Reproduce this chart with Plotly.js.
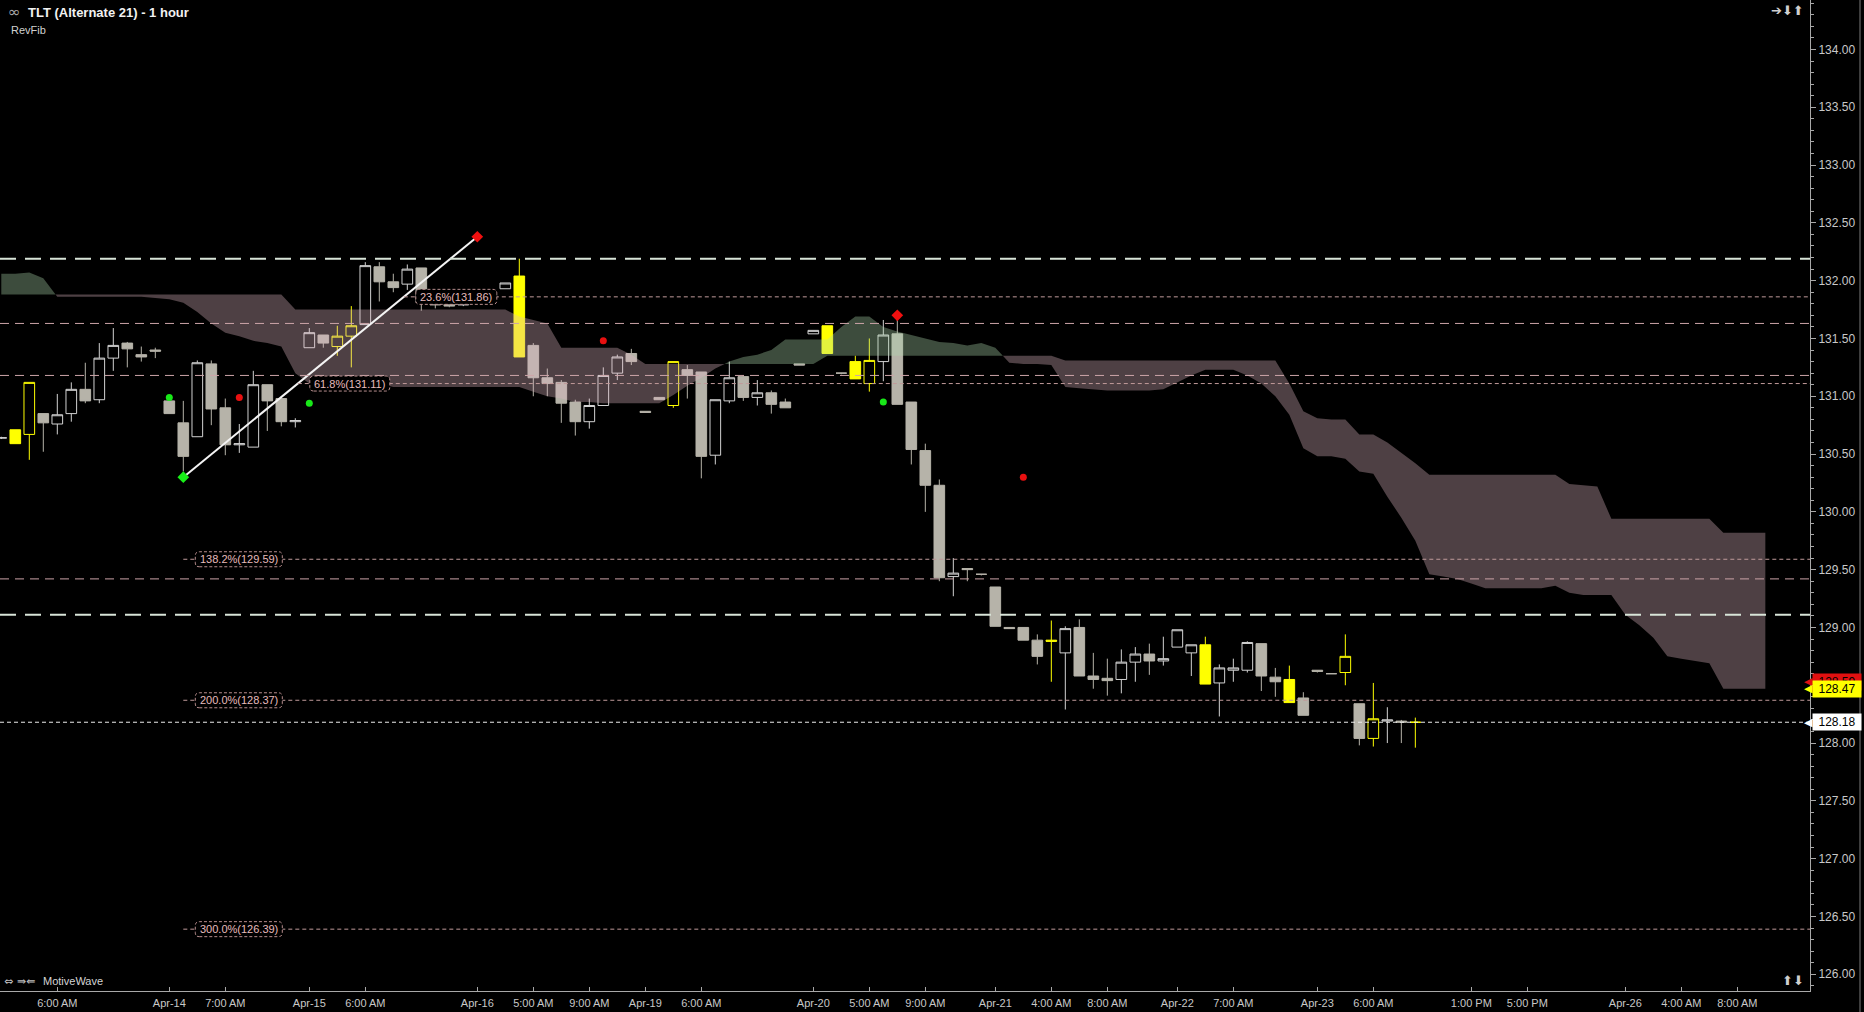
<!DOCTYPE html>
<html>
<head>
<meta charset="utf-8">
<script src="https://cdn.plot.ly/plotly-3.0.1.min.js"></script>
<style>
  html, body { margin: 0; padding: 0; background: #000; }
  #chart { width: 1864px; height: 1012px; }
</style>
</head>
<body>
<div id="chart"></div>
<script>
// ---------------- TLT hourly bars (x = bar number) ----------------
const open = [
  130.64,130.71,130.67,130.85,130.76,130.85,131.06,130.97,131.33,131.46,
  131.36,131.40,130.96,130.77,130.65,131.28,130.90,130.58,130.56,131.10,
  130.98,130.78,131.42,131.53,131.43,131.52,131.62,132.12,131.99,131.97,
  132.11,131.81,131.80,131.79,131.82,131.86,131.93,132.04,131.44,131.16,
  131.12,130.95,130.78,130.92,131.20,131.37,130.87,130.99,130.92,131.23,
  131.21,130.49,130.96,131.17,130.99,131.03,130.95,131.28,131.54,131.61,
  131.20,131.30,131.11,131.30,131.54,130.95,130.53,130.23,129.44,129.51,
  129.46,129.35,129.00,129.00,128.89,128.89,128.78,129.00,128.58,128.56,
  128.55,128.70,128.77,128.71,128.83,128.78,128.85,128.52,128.63,128.63,
  128.86,128.57,128.55,128.39,128.63,128.60,128.61,128.34,128.04,128.19,
  128.19,128.18];
const high = [
  130.65,130.71,131.12,130.85,131.02,131.12,131.29,131.46,131.59,131.47,
  131.43,131.42,130.96,130.96,131.31,131.31,130.98,130.76,131.22,131.10,
  131.00,130.81,131.59,131.53,131.61,131.78,132.16,132.16,132.06,132.14,
  132.11,131.86,131.80,131.81,131.86,131.90,131.98,132.19,131.46,131.24,
  131.14,130.97,130.98,131.25,131.36,131.41,130.87,130.99,131.30,131.27,
  131.21,130.97,131.30,131.18,131.14,131.05,130.98,131.28,131.57,131.61,
  131.20,131.35,131.50,131.66,131.66,130.95,130.59,130.28,129.60,129.51,
  129.46,129.35,129.00,129.00,128.94,129.06,129.01,129.07,128.78,128.73,
  128.81,128.83,128.86,128.92,128.98,128.85,128.92,128.68,128.73,128.88,
  128.86,128.65,128.67,128.44,128.63,128.60,128.94,128.34,128.52,128.31,
  128.20,128.22];
const low = [
  130.63,130.59,130.45,130.52,130.67,130.78,130.94,130.94,131.22,131.25,
  131.30,131.33,130.85,130.35,130.65,130.75,130.49,130.51,130.56,130.70,
  130.74,130.73,131.42,131.42,131.35,131.25,131.62,131.82,131.90,131.92,
  131.74,131.76,131.77,131.78,131.80,131.84,131.93,131.34,131.00,131.00,
  130.77,130.66,130.72,130.92,131.14,131.27,130.86,130.97,130.90,130.98,
  130.29,130.41,130.94,130.96,130.92,130.85,130.90,131.27,131.54,131.37,
  131.19,131.15,131.04,131.13,130.93,130.41,130.00,129.40,129.27,129.40,
  129.45,129.01,128.99,128.89,128.68,128.53,128.29,128.58,128.47,128.41,
  128.43,128.53,128.59,128.67,128.83,128.58,128.51,128.23,128.53,128.61,
  128.45,128.40,128.35,128.24,128.61,128.60,128.50,127.98,127.97,128.00,
  128.00,127.96];
const close = [
  130.64,130.59,131.12,130.77,130.84,131.06,130.96,131.33,131.44,131.41,
  131.34,131.39,130.85,130.48,131.29,130.89,130.58,130.59,131.10,130.96,
  130.78,130.79,131.55,131.46,131.52,131.61,132.13,131.99,131.94,132.10,
  131.81,131.79,131.78,131.80,131.84,131.88,131.98,131.34,131.16,131.11,
  130.94,130.78,130.92,131.18,131.34,131.30,130.86,130.97,131.30,131.18,
  130.48,130.97,131.16,130.99,131.03,130.93,130.90,131.27,131.57,131.37,
  131.20,131.15,131.31,131.53,130.93,130.54,130.23,129.43,129.47,129.50,
  129.46,129.01,128.99,128.89,128.75,128.88,128.99,128.58,128.55,128.54,
  128.70,128.77,128.71,128.73,128.98,128.85,128.51,128.65,128.65,128.87,
  128.58,128.53,128.35,128.24,128.62,128.60,128.75,128.04,128.21,128.20,
  128.18,128.18];
// bars painted yellow by the bar-colour study
const yellowBars = [1,2,24,25,37,48,59,61,62,75,86,92,96,98,101];

// Ichimoku leading spans (already displaced forward, bar 0..126)
const spanA = [
  132.06,132.06,132.07,132.02,131.86,131.86,131.86,131.86,131.86,131.86,
  131.86,131.85,131.84,131.81,131.73,131.63,131.55,131.52,131.48,131.46,
  131.43,131.20,131.11,131.11,131.11,131.11,131.11,131.11,131.08,131.08,
  131.08,131.08,131.08,131.08,131.08,131.08,131.08,131.08,131.04,131.00,
  130.98,130.95,130.95,130.94,130.94,130.94,130.94,130.94,131.01,131.09,
  131.16,131.24,131.30,131.34,131.36,131.40,131.49,131.49,131.49,131.49,
  131.60,131.69,131.69,131.60,131.56,131.53,131.50,131.47,131.46,131.44,
  131.46,131.42,131.29,131.28,131.28,131.27,131.08,131.07,131.06,131.05,
  131.05,131.05,131.05,131.06,131.12,131.18,131.23,131.23,131.23,131.18,
  131.11,131.00,130.84,130.55,130.48,130.48,130.46,130.35,130.33,130.13,
  129.95,129.75,129.46,129.44,129.42,129.38,129.34,129.34,129.34,129.34,
  129.34,129.36,129.30,129.28,129.28,129.28,129.11,129.02,128.91,128.75,
  128.73,128.71,128.69,128.47,128.47,128.47,128.47];
const spanB = [
  131.88,131.88,131.88,131.88,131.88,131.88,131.88,131.88,131.88,131.88,
  131.88,131.88,131.88,131.88,131.88,131.88,131.88,131.88,131.88,131.88,
  131.88,131.75,131.75,131.75,131.75,131.75,131.75,131.75,131.75,131.75,
  131.75,131.75,131.75,131.75,131.75,131.75,131.75,131.69,131.66,131.63,
  131.42,131.42,131.42,131.42,131.42,131.36,131.28,131.28,131.28,131.28,
  131.28,131.28,131.28,131.28,131.28,131.28,131.28,131.28,131.28,131.35,
  131.35,131.35,131.35,131.35,131.35,131.35,131.35,131.35,131.35,131.35,
  131.35,131.35,131.35,131.35,131.35,131.35,131.31,131.31,131.31,131.31,
  131.31,131.31,131.31,131.31,131.31,131.31,131.31,131.31,131.31,131.31,
  131.31,131.31,131.11,130.87,130.81,130.80,130.80,130.67,130.67,130.60,
  130.51,130.42,130.32,130.32,130.32,130.32,130.32,130.32,130.32,130.32,
  130.32,130.32,130.24,130.23,130.22,129.94,129.94,129.94,129.94,129.94,
  129.94,129.94,129.94,129.82,129.82,129.82,129.82];

// swing used by RevFib, and its levels
const swingIdx = [13, 34];
const swingPx = [130.30, 132.38];
const fibPct = ['23.6%', '61.8%', '138.2%', '200.0%', '300.0%'];
const fibVal = [131.86, 131.11, 129.59, 128.37, 126.39];

// horizontal support / resistance lines
const levelVal = [132.19, 131.63, 131.18, 129.42, 129.11];
const levelKind = ['major', 'minor', 'minor', 'minor', 'major'];
const lastPrice = 128.18;

// signal markers
const upDotIdx = [12, 22, 63],  upDotPx = [130.99, 130.94, 130.95];
const dnDotIdx = [17, 43, 73],  dnDotPx = [130.99, 131.48, 130.30];
const lowPivotIdx = [13],       lowPivotPx = [130.30];
const highPivotIdx = [34, 64],  highPivotPx = [132.38, 131.70];

// price tags on the axis (drawn back to front)
const tagVal = [128.59, 128.47, 128.18];
const tagBg  = ['#e01010', '#ffff00', '#ffffff'];
const tagNudge = [-7, 0, 0];   // px shift applied when tags overlap

// time axis
const tickIdx = [4,12,16,22,26,34,38,42,46,50,58,62,66,71,75,79,84,88,94,98,105,109,116,120,124];
const tickText = ['6:00 AM','Apr-14','7:00 AM','Apr-15','6:00 AM','Apr-16','5:00 AM','9:00 AM',
  'Apr-19','6:00 AM','Apr-20','5:00 AM','9:00 AM','Apr-21','4:00 AM','8:00 AM','Apr-22',
  '7:00 AM','Apr-23','6:00 AM','1:00 PM','5:00 PM','Apr-26','4:00 AM','8:00 AM'];

// ---------------- layout geometry ----------------
const FIG_W = 1864, FIG_H = 1012;
const MARGIN = { l: 0, r: 54, t: 0, b: 21, pad: 0 };
const plotW = FIG_W - MARGIN.l - MARGIN.r;
const plotH = FIG_H - MARGIN.t - MARGIN.b;
const xRange = [-0.093, 129.19];
const yRange = [125.855, 134.428];
const px2paperX = px => px / plotW;
const px2paperY = py => 1 - py / plotH;
const FONT = 'Liberation Sans, Arial, sans-serif';

const bars = open.map((_, i) => i);

// ---------------- candles ----------------
function candleTrace(keep, incLine, incFill, decLine, decFill) {
  const sel = arr => arr.filter((_, i) => keep(i));
  return {
    type: 'candlestick',
    x: sel(bars), open: sel(open), high: sel(high), low: sel(low), close: sel(close),
    increasing: { line: { color: incLine, width: 1 }, fillcolor: incFill },
    decreasing: { line: { color: decLine, width: 1 }, fillcolor: decFill },
    whiskerwidth: 0, hoverinfo: 'skip', showlegend: false
  };
}
const isYellow = i => yellowBars.includes(i);
const traces = [
  candleTrace(i => !isYellow(i), '#d2d2d2', '#000000', '#b6b3a9', '#b6b3a9'),
  candleTrace(isYellow, '#ffff00', '#000000', '#ffff00', '#ffff00')
];

// ---------------- cloud ----------------
function cloudRuns(a, b) {
  const runs = [];
  let cur = null;
  for (let i = 0; i < a.length; i++) {
    const bull = a[i] >= b[i];
    if (!cur) { cur = { bull, xs: [i], a: [a[i]], b: [b[i]] }; continue; }
    if (bull === cur.bull) {
      cur.xs.push(i); cur.a.push(a[i]); cur.b.push(b[i]);
    } else {
      const d0 = a[i - 1] - b[i - 1], d1 = a[i] - b[i];
      const t = d0 / (d0 - d1);
      const xc = i - 1 + t, yc = a[i - 1] + t * (a[i] - a[i - 1]);
      cur.xs.push(xc); cur.a.push(yc); cur.b.push(yc);
      runs.push(cur);
      cur = { bull, xs: [xc, i], a: [yc, a[i]], b: [yc, b[i]] };
    }
  }
  runs.push(cur);
  return runs;
}
cloudRuns(spanA, spanB).forEach(r => {
  traces.push({
    type: 'scatter', mode: 'lines',
    x: r.xs.concat(r.xs.slice().reverse()),
    y: r.a.concat(r.b.slice().reverse()),
    fill: 'toself',
    fillcolor: r.bull ? 'rgba(176,218,176,0.35)' : 'rgba(224,182,194,0.35)',
    line: { width: 0 }, hoverinfo: 'skip', showlegend: false
  });
});

// swing line and markers
traces.push({
  type: 'scatter', mode: 'lines',
  x: [swingIdx[0], swingIdx[1]], y: [swingPx[0], swingPx[1]],
  line: { color: '#f4f4f4', width: 2 }, hoverinfo: 'skip', showlegend: false
});
function markerTrace(x, y, symbol, color, size) {
  return { type: 'scatter', mode: 'markers', x, y,
    marker: { symbol, color, size, line: { width: 0 } }, hoverinfo: 'skip', showlegend: false };
}
traces.push(markerTrace(upDotIdx, upDotPx, 'circle', '#18e818', 7));
traces.push(markerTrace(dnDotIdx, dnDotPx, 'circle', '#e81010', 7));
traces.push(markerTrace(lowPivotIdx, lowPivotPx, 'diamond', '#18f018', 9));
traces.push(markerTrace(highPivotIdx, highPivotPx, 'diamond', '#f01010', 9));

// ---------------- shapes ----------------
const shapes = [];
const levelStyle = {
  major: { color: '#d8e4d8', width: 2, dash: '16px,9px' },
  minor: { color: '#cca4a8', width: 1, dash: '9px,6px' }
};
levelVal.forEach((v, k) => {
  shapes.push({ type: 'line', xref: 'x', yref: 'y', x0: xRange[0], x1: xRange[1], y0: v, y1: v,
    line: levelStyle[levelKind[k]], layer: 'above' });
});
shapes.push({ type: 'line', xref: 'x', yref: 'y', x0: xRange[0], x1: xRange[1], y0: lastPrice, y1: lastPrice,
  line: { color: '#ececec', width: 1, dash: '4px,3px' }, layer: 'above' });

function fibStart(v) {
  const lo = swingPx[0], hi = swingPx[1];
  if (v > lo && v < hi) return swingIdx[0] + (v - lo) / (hi - lo) * (swingIdx[1] - swingIdx[0]);
  return swingIdx[0];
}
function roundRect(x0, x1, h, r) {
  const y0 = -h / 2, y1 = h / 2;
  return `M${x0 + r},${y0} L${x1 - r},${y0} Q${x1},${y0} ${x1},${y0 + r} L${x1},${y1 - r} ` +
         `Q${x1},${y1} ${x1 - r},${y1} L${x0 + r},${y1} Q${x0},${y1} ${x0},${y1 - r} ` +
         `L${x0},${y0 + r} Q${x0},${y0} ${x0 + r},${y0} Z`;
}
const measure = document.createElement('canvas').getContext('2d');
measure.font = '11px "Liberation Sans"';

const annotations = [];
const LABEL_GAP = 12;
fibVal.forEach((v, k) => {
  const s = fibStart(v);
  shapes.push({ type: 'line', xref: 'x', yref: 'y', x0: s, x1: xRange[1], y0: v, y1: v,
    line: { color: '#c09a9a', width: 1, dash: '4px,3px' }, layer: 'above' });
  const text = `${fibPct[k]}(${v.toFixed(2)})`;
  const bw = Math.round(measure.measureText(text).width) + 9;
  shapes.push({ type: 'path', xref: 'x', yref: 'y', xsizemode: 'pixel', ysizemode: 'pixel',
    xanchor: s, yanchor: v, path: roundRect(LABEL_GAP, LABEL_GAP + bw, 15, 4),
    fillcolor: '#000000', line: { color: '#b88e8e', width: 1, dash: '3px,2px' }, layer: 'above' });
  annotations.push({ xref: 'x', yref: 'y', x: s, y: v, xanchor: 'center', yanchor: 'middle',
    xshift: LABEL_GAP + bw / 2, text, showarrow: false,
    font: { family: FONT, size: 11, color: '#e6bcbc' } });
});

// outer frame on the right
shapes.push({ type: 'line', xref: 'paper', yref: 'paper', x0: px2paperX(1860), x1: px2paperX(1860),
  y0: px2paperY(FIG_H), y1: 1, line: { color: '#7a7a7a', width: 1 }, layer: 'above' });

// price tags on the axis
tagVal.forEach((v, k) => {
  annotations.push({ xref: 'paper', yref: 'y', x: 1, y: v, xanchor: 'right', yanchor: 'middle',
    xshift: 5, yshift: tagNudge[k], text: '◀', showarrow: false,
    font: { family: 'DejaVu Sans', size: 11, color: tagBg[k] } });
  annotations.push({ xref: 'paper', yref: 'y', x: 1, y: v, xanchor: 'left', yanchor: 'middle',
    xshift: 2, yshift: tagNudge[k], text: v.toFixed(2), showarrow: false, bgcolor: tagBg[k],
    borderpad: 1, width: 46,
    font: { family: FONT, size: 12, color: '#000000' } });
});

// header and footer texts
annotations.push(
  { xref: 'paper', yref: 'paper', x: px2paperX(6), y: px2paperY(12), xanchor: 'left', yanchor: 'middle',
    text: '∞', showarrow: false, font: { family: 'DejaVu Sans', size: 15, color: '#a8a8a8' } },
  { xref: 'paper', yref: 'paper', x: px2paperX(26), y: px2paperY(12), xanchor: 'left', yanchor: 'middle',
    text: '<b>TLT (Alternate 21) - 1 hour</b>', showarrow: false,
    font: { family: FONT, size: 13, color: '#f2f2f2' } },
  { xref: 'paper', yref: 'paper', x: px2paperX(9), y: px2paperY(30), xanchor: 'left', yanchor: 'middle',
    text: 'RevFib', showarrow: false, font: { family: FONT, size: 11, color: '#d0d0d0' } },
  { xref: 'paper', yref: 'paper', x: px2paperX(1806), y: px2paperY(10), xanchor: 'right', yanchor: 'middle',
    text: '➔⬇⬆', showarrow: false, font: { family: 'DejaVu Sans', size: 13, color: '#cfcfcf' } },
  { xref: 'paper', yref: 'paper', x: px2paperX(2), y: px2paperY(981), xanchor: 'left', yanchor: 'middle',
    text: '⇔ ⇛⇚', showarrow: false, font: { family: 'DejaVu Sans', size: 11, color: '#bdbdbd' } },
  { xref: 'paper', yref: 'paper', x: px2paperX(41), y: px2paperY(981), xanchor: 'left', yanchor: 'middle',
    text: 'MotiveWave', showarrow: false, font: { family: FONT, size: 11, color: '#d4d4d4' } },
  { xref: 'paper', yref: 'paper', x: px2paperX(1806), y: px2paperY(980), xanchor: 'right', yanchor: 'middle',
    text: '⬆⬇', showarrow: false, font: { family: 'DejaVu Sans', size: 13, color: '#cfcfcf' } }
);

const layout = {
  width: FIG_W, height: FIG_H,
  margin: MARGIN,
  paper_bgcolor: '#000000', plot_bgcolor: '#000000',
  showlegend: false,
  boxgap: 0.24, boxgroupgap: 0,
  font: { family: FONT, color: '#c8c8c8' },
  xaxis: {
    type: 'linear', range: xRange, rangeslider: { visible: false },
    showgrid: false, zeroline: false,
    showline: true, linecolor: '#a8a8a8', linewidth: 1,
    ticks: 'inside', ticklen: 4, tickcolor: '#a8a8a8',
    ticklabelstandoff: 2,
    tickmode: 'array', tickvals: tickIdx, ticktext: tickText,
    tickfont: { family: FONT, size: 11, color: '#c8c8c8' }
  },
  yaxis: {
    side: 'right', range: yRange,
    showgrid: false, zeroline: false,
    showline: true, linecolor: '#a8a8a8', linewidth: 1,
    ticks: 'outside', ticklen: 5, tickcolor: '#a8a8a8',
    dtick: 0.5, tick0: 0, tickformat: '.2f',
    minor: { dtick: 0.1, ticks: 'outside', ticklen: 3, tickcolor: '#a8a8a8' },
    tickfont: { family: FONT, size: 12, color: '#c8c8c8' }
  },
  shapes, annotations
};

Plotly.newPlot('chart', traces, layout, { staticPlot: true, displayModeBar: false });
</script>
</body>
</html>
